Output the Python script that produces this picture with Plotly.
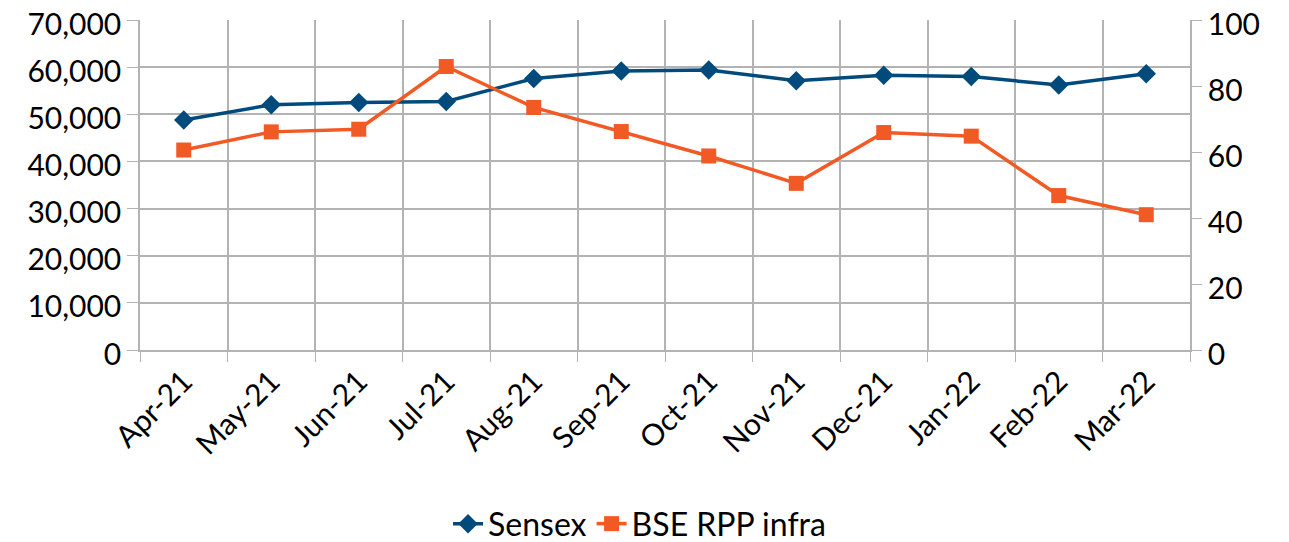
import plotly.graph_objects as go

months = ["Apr-21", "May-21", "Jun-21", "Jul-21", "Aug-21", "Sep-21",
          "Oct-21", "Nov-21", "Dec-21", "Jan-22", "Feb-22", "Mar-22"]
sensex = [48800, 52000, 52500, 52700, 57600, 59200,
          59400, 57100, 58300, 58000, 56200, 58600]
bse_rpp_infra = [60.6, 66.1, 66.9, 85.9, 73.5, 66.2,
                 58.8, 50.5, 65.9, 64.8, 46.8, 41.0]

FONT = "Lato, Open Sans, sans-serif"
GRID = "#b3b3b3"
FS = 30

fig = go.Figure()
fig.add_trace(go.Scatter(
    x=months, y=sensex, name="Sensex", mode="lines+markers",
    line=dict(color="#004a7c", width=3.5),
    marker=dict(symbol="diamond", size=15, color="#004a7c"),
    yaxis="y"))
fig.add_trace(go.Scatter(
    x=months, y=bse_rpp_infra, name="BSE RPP infra", mode="lines+markers",
    line=dict(color="#f15a24", width=3.5),
    marker=dict(symbol="square", size=15, color="#f15a24"),
    yaxis="y2"))

fig.update_layout(
    width=1281, height=534,
    margin=dict(l=132, r=99, t=12, b=192, autoexpand=False),
    paper_bgcolor="white", plot_bgcolor="white",
    font=dict(family=FONT, size=FS, color="black"),
    xaxis=dict(type="category", range=[-0.5, 11.5], tickson="boundaries",
               ticks="outside", ticklen=10, tickcolor=GRID,
               showgrid=True, gridcolor=GRID, gridwidth=1.5,
               showline=True, linecolor=GRID, linewidth=1.5,
               tickangle=-45, tickfont=dict(size=FS), automargin=False),
    yaxis=dict(range=[0, 70000], dtick=10000, tickformat=",",
               ticks="outside", ticklen=11, tickcolor=GRID,
               showgrid=True, gridcolor=GRID, gridwidth=1.5,
               showline=True, linecolor=GRID, linewidth=1.5,
               zeroline=False, tickfont=dict(size=FS), automargin=False,
               ticklabeloverflow="allow", ticklabelshift=4),
    yaxis2=dict(range=[0, 100], dtick=20, overlaying="y", side="right",
                ticks="outside", ticklen=10, tickcolor=GRID,
                showgrid=False, showline=True, linecolor=GRID, linewidth=1.5,
                zeroline=False, tickfont=dict(size=FS), automargin=False,
                ticklabeloverflow="allow", ticklabelshift=4),
    legend=dict(orientation="h", xref="container", x=0.493, xanchor="center",
                yref="container", y=0.034, yanchor="middle",
                font=dict(size=32)),
    showlegend=True,
)

fig.write_html("out.html")
